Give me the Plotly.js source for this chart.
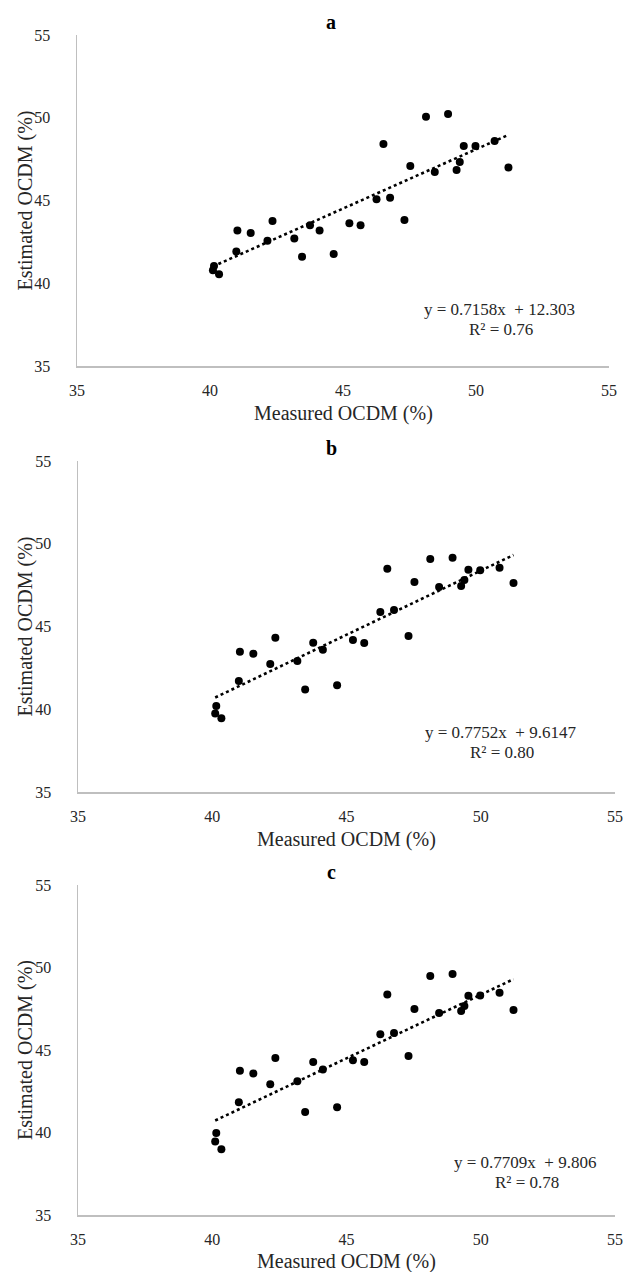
<!DOCTYPE html>
<html>
<head>
<meta charset="utf-8">
<script src="https://cdn.plot.ly/plotly-3.0.1.min.js"></script>
<style>
  html, body { margin: 0; padding: 0; background: #ffffff; }
  #chart { width: 623px; height: 1272px; }
</style>
</head>
<body>
<div id="chart"></div>
<script>
// ---- Data ----
const measured = [40.15, 40.11, 40.34, 40.99, 41.03, 41.53, 42.16, 42.35, 43.17, 43.46,
                  43.76, 44.12, 44.65, 45.24, 45.66, 46.26, 46.52, 46.77, 47.31, 47.53,
                  48.12, 48.45, 48.95, 49.27, 49.39, 49.54, 49.98, 50.70, 51.22];

const estimatedA = [41.04, 40.78, 40.55, 41.92, 43.18, 43.03, 42.57, 43.76, 42.71, 41.60,
                    43.51, 43.18, 41.76, 43.63, 43.51, 45.08, 48.41, 45.17, 43.82, 47.08,
                    50.06, 46.72, 50.22, 46.84, 47.32, 48.29, 48.29, 48.59, 47.00];

const estimatedB = [40.20, 39.75, 39.45, 41.71, 43.48, 43.36, 42.73, 44.32, 42.92, 41.20,
                    44.02, 43.60, 41.45, 44.18, 44.00, 45.88, 48.49, 46.00, 44.43, 47.69,
                    49.08, 47.39, 49.16, 47.45, 47.81, 48.43, 48.40, 48.55, 47.63];

const estimatedC = [39.97, 39.45, 38.99, 41.83, 43.74, 43.58, 42.93, 44.52, 43.10, 41.24,
                    44.28, 43.82, 41.53, 44.38, 44.28, 45.96, 48.37, 46.03, 44.63, 47.48,
                    49.48, 47.24, 49.60, 47.36, 47.67, 48.29, 48.31, 48.47, 47.42];

const panelLabels = ["a", "b", "c"];
const slopes = [0.7158, 0.7752, 0.7709];
const intercepts = [12.303, 9.6147, 9.806];
const equationTexts = ["y = 0.7158x  + 12.303", "y = 0.7752x  + 9.6147", "y = 0.7709x  + 9.806"];
const r2Texts = ["R² = 0.76", "R² = 0.80", "R² = 0.78"];
const tickValues = [35, 40, 45, 50, 55];
const tickLabels = ["35", "40", "45", "50", "55"];
const xTitle = "Measured OCDM (%)";
const yTitle = "Estimated OCDM (%)";

// ---- Layout geometry (pixels in a 623 x 1272 page) ----
const W = 623, H = 1272;
const FONT = "Liberation Serif, Times New Roman, serif";
const TXT = "#262626";
const panels = [
  {left: 77, right: 609, top: 35,  bottom: 366, eqX: 499, eqY: 309, xtY: 413},
  {left: 78, right: 615, top: 461, bottom: 792, eqX: 500, eqY: 732, xtY: 839},
  {left: 78, right: 615, top: 885, bottom: 1215, eqX: 525, eqY: 1162, xtY: 1261}
];
const px = v => v / W;
const py = v => 1 - v / H;

const series = [estimatedA, estimatedB, estimatedC];
const traces = [];
const annotations = [];
const layout = {
  width: W, height: H,
  margin: {l: 0, r: 0, t: 0, b: 0},
  paper_bgcolor: "#ffffff",
  plot_bgcolor: "#ffffff",
  showlegend: false,
  font: {family: FONT, color: TXT, size: 16},
  annotations: annotations
};

const xmin = Math.min(...measured), xmax = Math.max(...measured);

panels.forEach((p, i) => {
  const n = i === 0 ? "" : String(i + 1);
  const xa = "x" + n, ya = "y" + n;
  traces.push({
    type: "scatter", mode: "markers",
    x: measured, y: series[i], xaxis: xa, yaxis: ya,
    marker: {color: "#000000", size: 8},
    hoverinfo: "x+y"
  });
  traces.push({
    type: "scatter", mode: "lines",
    x: [xmin, xmax],
    y: [slopes[i] * xmin + intercepts[i], slopes[i] * xmax + intercepts[i]],
    xaxis: xa, yaxis: ya,
    line: {color: "#000000", width: 2.6, dash: "dot"},
    hoverinfo: "skip"
  });
  layout["xaxis" + n] = {
    domain: [px(p.left), px(p.right)],
    anchor: ya,
    range: [35, 55],
    tickvals: tickValues, ticktext: tickLabels,
    showgrid: false, zeroline: false,
    showline: true, linecolor: "#bfbfbf", linewidth: 1.5,
    ticks: "", ticklabelstandoff: 9,
    tickfont: {family: FONT, size: 16, color: TXT},
    fixedrange: true
  };
  layout["yaxis" + n] = {
    domain: [py(p.bottom), py(p.top)],
    anchor: xa,
    range: [35, 55],
    tickvals: tickValues, ticktext: tickLabels,
    showgrid: false, zeroline: false,
    showline: true, linecolor: "#bfbfbf", linewidth: 1.5,
    ticks: "", ticklabelstandoff: 22,
    tickfont: {family: FONT, size: 16, color: TXT},
    fixedrange: true
  };
  annotations.push({
    xref: "paper", yref: "paper", x: px(331), y: py(p.top - 13),
    xanchor: "center", yanchor: "middle", showarrow: false,
    text: "<b>" + panelLabels[i] + "</b>",
    font: {family: FONT, size: 20, color: "#000000"}
  });
  annotations.push({
    xref: "paper", yref: "paper", x: px((p.left + p.right) / 2), y: py(p.xtY),
    xanchor: "center", yanchor: "middle", showarrow: false,
    text: xTitle, font: {family: FONT, size: 20, color: TXT}
  });
  annotations.push({
    xref: "paper", yref: "paper", x: px(25), y: py((p.top + p.bottom) / 2),
    xanchor: "center", yanchor: "middle", showarrow: false, textangle: -90,
    text: yTitle, font: {family: FONT, size: 20, color: TXT}
  });
  annotations.push({
    xref: "paper", yref: "paper", x: px(p.eqX), y: py(p.eqY),
    xanchor: "center", yanchor: "middle", showarrow: false,
    text: equationTexts[i], font: {family: FONT, size: 17, color: TXT}
  });
  annotations.push({
    xref: "paper", yref: "paper", x: px(p.eqX + 2), y: py(p.eqY + 20),
    xanchor: "center", yanchor: "middle", showarrow: false,
    text: r2Texts[i], font: {family: FONT, size: 17, color: TXT}
  });
});

Plotly.newPlot("chart", traces, layout, {displayModeBar: false, staticPlot: true});
</script>
</body>
</html>
